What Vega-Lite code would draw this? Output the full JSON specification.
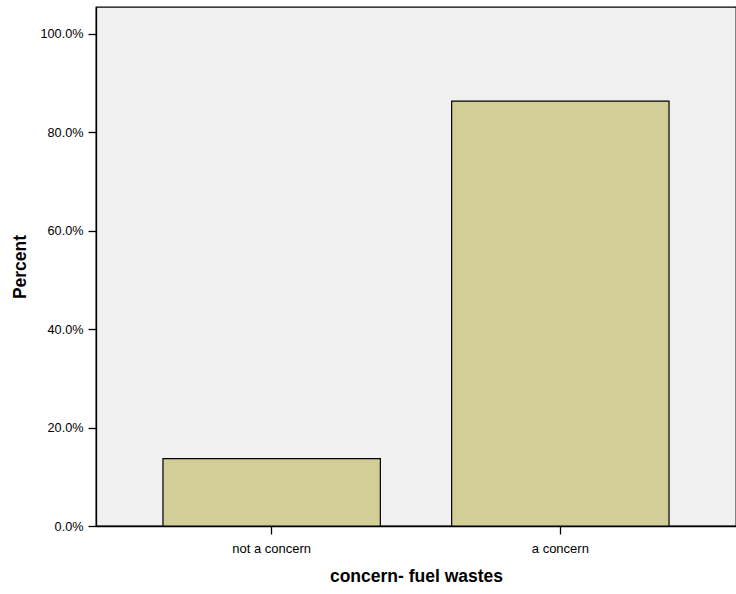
{
  "$schema": "https://vega.github.io/schema/vega-lite/v6.json",
  "width": 640,
  "height": 519,
  "autosize": {"type": "none"},
  "padding": {"left": 96, "top": 7, "right": 0, "bottom": 68},
  "background": "white",
  "config": {
    "font": "Liberation Sans",
    "view": {"fill": "#f0f0f0", "stroke": "black", "strokeWidth": 1.3}
  },
  "data": {
    "values": [
      {"category": "not a concern", "percent": 0.137},
      {"category": "a concern", "percent": 0.863}
    ]
  },
  "mark": {"type": "bar", "fill": "#d3ce97", "stroke": "black", "strokeWidth": 1.2},
  "encoding": {
    "x": {
      "field": "category",
      "type": "nominal",
      "sort": ["not a concern", "a concern"],
      "scale": {"paddingInner": 0.247, "paddingOuter": 0.232},
      "axis": {
        "title": "concern- fuel wastes",
        "titleFont": "Liberation Sans",
        "titleFontSize": 17.5,
        "titleFontWeight": "bold",
        "titleColor": "black",
        "titlePadding": 12,
        "labelAngle": 0,
        "labelFontSize": 13,
        "labelColor": "black",
        "labelPadding": 8,
        "tickSize": 8,
        "tickColor": "black",
        "domainColor": "black",
        "domainWidth": 1.3,
        "tickWidth": 1.3
      }
    },
    "y": {
      "field": "percent",
      "type": "quantitative",
      "scale": {"domain": [0, 1.054], "nice": false},
      "axis": {
        "title": "Percent",
        "titleFontSize": 17.5,
        "titleFontWeight": "bold",
        "titleColor": "black",
        "titlePadding": 10,
        "format": ".1%",
        "values": [0, 0.2, 0.4, 0.6, 0.8, 1.0],
        "labelFontSize": 12.7,
        "labelColor": "black",
        "labelPadding": 5,
        "tickSize": 8,
        "tickColor": "black",
        "tickWidth": 1.3,
        "domainColor": "black",
        "domainWidth": 1.3,
        "grid": false
      }
    }
  }
}
